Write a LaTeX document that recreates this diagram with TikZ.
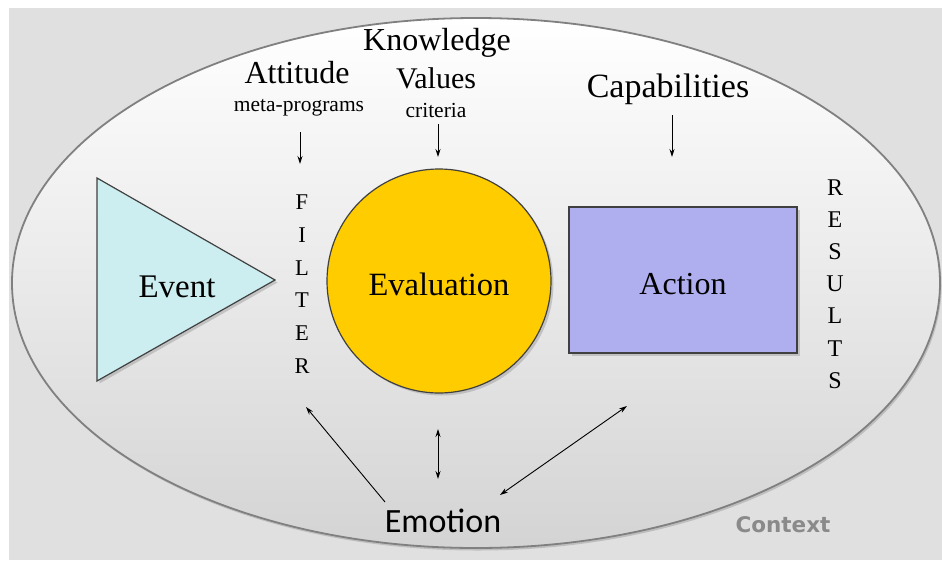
\documentclass[tikz,border=0pt]{standalone}
\usepackage{fontspec}
\setmainfont{Liberation Serif}
\newfontfamily\calibfont{Carlito}
\newfontfamily\verdfont{DejaVu Sans}
\usetikzlibrary{arrows.meta,shadows}
\definecolor{bggray}{HTML}{E0E0E0}
\definecolor{evfill}{HTML}{CCEEF0}
\definecolor{gold}{HTML}{FFCC00}
\definecolor{lav}{HTML}{AFAEEE}
\definecolor{ctxgray}{HTML}{8A8A8A}
\begin{document}
\begin{tikzpicture}[x=1pt,y=-1pt,
  shapeedge/.style={draw=black!75,line width=1.2pt,drop shadow={shadow xshift=2.5pt,shadow yshift=-2.5pt,opacity=.35}},
  arr/.style={-{Stealth[length=8pt,width=5pt]},line width=0.9pt},
  darr/.style={{Stealth[length=8pt,width=5pt]}-{Stealth[length=8pt,width=5pt]},line width=0.9pt},
  lbl/.style={inner sep=0pt,anchor=base},
  letters/.style={align=center,inner sep=0pt}]
\useasboundingbox (0,0) rectangle (942,560);
\fill[white] (0,0) rectangle (942,560);
\fill[bggray] (9,8) rectangle (942,560);
% context ellipse
\path[draw=black!50,line width=1.8pt,shading=axis,top color=white,middle color=white!93!black,bottom color=white!83!black,
  drop shadow={shadow xshift=1.5pt,shadow yshift=-2.5pt,opacity=.35}]
  (476,283) ellipse [x radius=464, y radius=265];
% event triangle
\path[shapeedge,fill=evfill] (97,178) -- (275,280) -- (97,381) -- cycle;
\node[lbl,font=\fontsize{33}{36}\selectfont] (event) at (177,297) {Event};
% evaluation circle
\node[circle,shapeedge,fill=gold,minimum size=224pt,inner sep=0pt] (evalc) at (439,281) {};
\node[lbl,font=\fontsize{32.5}{36}\selectfont] (evaluation) at (439,295) {Evaluation};
% action rectangle
\node[rectangle,shapeedge,fill=lav,minimum width=228pt,minimum height=146pt,inner sep=0pt] (actbox) at (683,280) {};
\node[lbl,font=\fontsize{32}{36}\selectfont] (action) at (683,294) {Action};
% FILTER / RESULTS
\node[letters,font=\fontsize{22.5}{32.7}\selectfont] (filter) at (302,284) {F\\I\\L\\T\\E\\R};
\node[letters,font=\fontsize{24}{32.2}\selectfont] (results) at (835,284) {R\\E\\S\\U\\L\\T\\S};
% top labels
\node[lbl,font=\fontsize{32}{36}\selectfont] (knowledge) at (437,50) {Knowledge};
\node[lbl,font=\fontsize{32}{36}\selectfont] (attitude) at (297,83) {Attitude};
\node[lbl,font=\fontsize{30}{34}\selectfont] (values) at (436,88) {Values};
\node[lbl,font=\fontsize{21.5}{24}\selectfont] (meta) at (299,111) {meta-programs};
\node[lbl,font=\fontsize{21.5}{24}\selectfont] (criteria) at (436,117) {criteria};
\node[lbl,font=\fontsize{34}{38}\selectfont] (capab) at (668,97) {Capabilities};
% bottom labels
\node[lbl,font=\calibfont\fontsize{34}{38}\selectfont] (emotion) at (443,532) {Emotion};
\node[lbl,font=\verdfont\bfseries\fontsize{21.5}{24}\selectfont,text=ctxgray] (context) at (783,532) {Context};
% arrow end points
\coordinate (m1) at (300,132); \coordinate (m2) at (300,164);
\coordinate (c1) at (438,124); \coordinate (c2) at (438,157);
\coordinate (p1) at (672,115); \coordinate (p2) at (672,157);
\coordinate (e1) at (385,502); \coordinate (e2) at (306,407);
\coordinate (v1) at (438,429); \coordinate (v2) at (438,479);
\coordinate (r1) at (500,495); \coordinate (r2) at (627,406);
\draw[arr] (m1) -- (m2);
\draw[arr] (c1) -- (c2);
\draw[arr] (p1) -- (p2);
\draw[arr] (e1) -- (e2);
\draw[darr] (v1) -- (v2);
\draw[darr] (r1) -- (r2);
\end{tikzpicture}
\end{document}
